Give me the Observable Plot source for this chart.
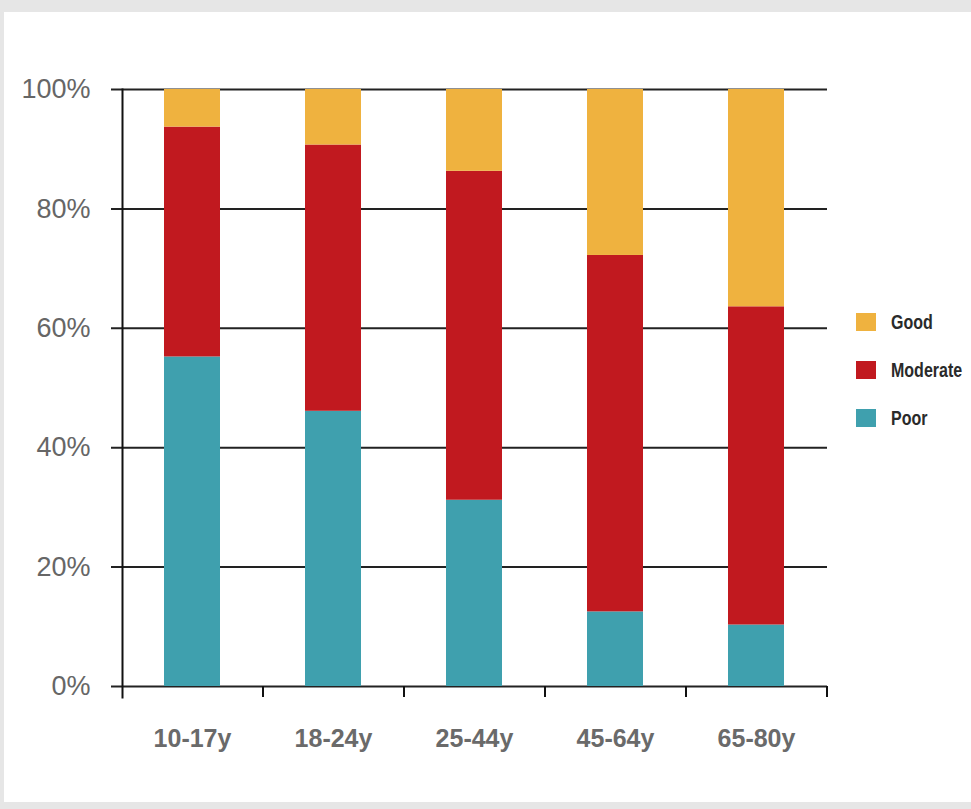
<!DOCTYPE html>
<html>
<head>
<meta charset="utf-8">
<script src="https://cdn.jsdelivr.net/npm/d3@7"></script>
<script src="https://cdn.jsdelivr.net/npm/@observablehq/plot@0.6"></script>
<style>
  html, body { margin: 0; padding: 0; background: #e6e6e6; }
  body { width: 971px; height: 809px; position: relative; overflow: hidden; }
  #panel { position: absolute; left: 4px; top: 12px; width: 967px; height: 790px; background: #ffffff; }
  #chart { position: absolute; left: 0; top: 0; }
  .legend { position: absolute; left: 852px; top: 300px; font-family: "Liberation Sans", Arial, sans-serif; font-weight: bold; font-size: 20px; color: #2a2a2a; }
  .legend .item { position: absolute; left: 0; height: 20px; white-space: nowrap; }
  .legend .sw { position: absolute; left: 0; top: 1px; width: 20px; height: 18px; }
  .legend .lab { position: absolute; left: 35px; top: -2px; line-height: 24px; display: inline-block; transform: scaleX(0.8); transform-origin: 0 50%; }
</style>
</head>
<body>
<div id="panel">
  <div id="chart"></div>
  <div class="legend" id="legend"></div>
</div>
<script>
const categories = ["10-17y", "18-24y", "25-44y", "45-64y", "65-80y"];
const seriesNames = ["Poor", "Moderate", "Good"];
const poor     = [55.2, 46.1, 31.2, 12.5, 10.3];
const moderate = [38.5, 44.6, 55.1, 59.7, 53.3];
const good     = [6.3, 9.3, 13.7, 27.8, 36.4];
const colors = ["#3fa0ae", "#c1191f", "#efb23f"];
const yTicks = [0, 20, 40, 60, 80, 100];
const legendOrder = ["Good", "Moderate", "Poor"];

const seriesValues = {Poor: poor, Moderate: moderate, Good: good};
const rows = categories.flatMap((age, i) =>
  seriesNames.map(q => ({age, quality: q, value: seriesValues[q][i]}))
);

const W = 967, H = 790, mL = 118, mR = 144, mT = 77, mB = 116;
const halfStep = (W - mL - mR) / categories.length / 2;

const chart = Plot.plot({
  width: W, height: H,
  marginLeft: mL, marginRight: mR, marginTop: mT, marginBottom: mB,
  style: {fontFamily: "'Liberation Sans', Arial, sans-serif", background: "transparent", overflow: "visible"},
  x: {domain: categories, paddingInner: 0.6, paddingOuter: 0.3},
  y: {domain: [0, 100]},
  color: {domain: seriesNames, range: colors},
  marks: [
    Plot.ruleY(yTicks, {y: d => d, stroke: "#222", strokeWidth: 2, insetLeft: -11}),
    Plot.barY(rows, {x: "age", y: "value", fill: "quality", order: seriesNames}),
    Plot.frame({anchor: "left", insetBottom: -11, stroke: "#111", strokeWidth: 2}),
    Plot.ruleX(categories.slice(1), {x: d => d, y1: 0, y2: 0, insetBottom: -11, dx: -halfStep, stroke: "#111", strokeWidth: 2}),
    Plot.ruleX(categories.slice(-1), {x: d => d, y1: 0, y2: 0, insetBottom: -11, dx: halfStep, stroke: "#111", strokeWidth: 2}),
    Plot.axisY(yTicks, {tickSize: 0, tickPadding: 32, tickFormat: d => d + "%", fontSize: 27, fill: "#666", label: null}),
    Plot.axisX({tickSize: 0, tickPadding: 43, fontSize: 25, fontWeight: "bold", fill: "#6a6a6a", label: null})
  ]
});
document.getElementById("chart").append(chart);

const colorOf = Object.fromEntries(seriesNames.map((s, i) => [s, colors[i]]));
const legend = document.getElementById("legend");
legendOrder.forEach((name, i) => {
  const item = document.createElement("div");
  item.className = "item";
  item.style.top = (i * 48) + "px";
  const sw = document.createElement("div");
  sw.className = "sw";
  sw.style.background = colorOf[name];
  const lab = document.createElement("span");
  lab.className = "lab";
  lab.textContent = name;
  item.append(sw, lab);
  legend.append(item);
});
</script>
</body>
</html>
